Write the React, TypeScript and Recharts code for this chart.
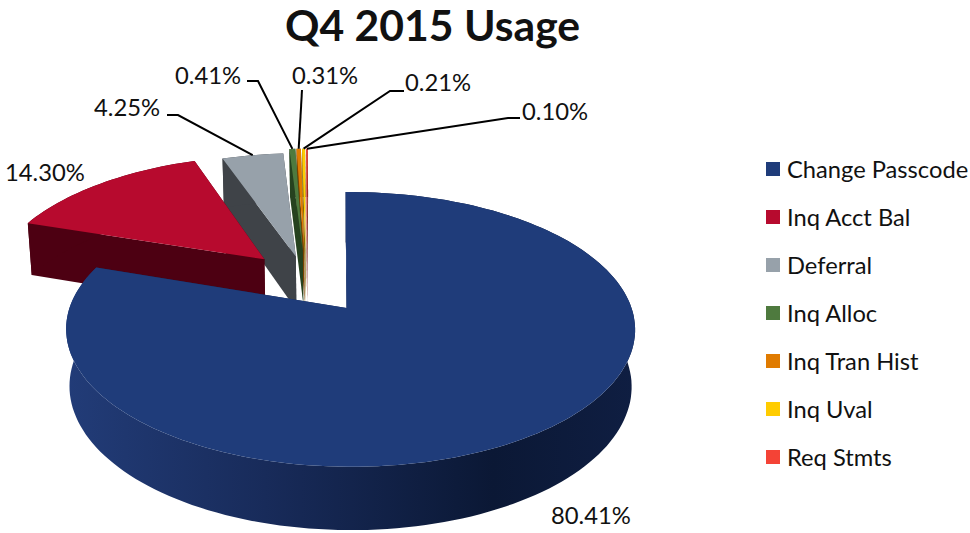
import { PieChart, Pie, Legend } from 'recharts';

// legend order, biggest first
const names = ['Change Passcode', 'Inq Acct Bal', 'Deferral', 'Inq Alloc', 'Inq Tran Hist', 'Inq Uval', 'Req Stmts'];
const shares = [80.41, 14.3, 4.25, 0.41, 0.31, 0.21, 0.1];
const topColors = ['#1f3c7a', '#b70a2e', '#97a1aa', '#4e7a3e', '#e07b00', '#ffcc00', '#f44336'];
const sideColors = ['#14264f', '#4d0012', '#3f4348', '#26421f', '#7a4300', '#8a6d00', '#7a211b'];

const WIDTH = 970;
const HEIGHT = 533;
const FONT = 'Lato, sans-serif';

// Recharts has no 3D pie, so each sector is projected by hand
const ORIGIN_X = 346;
const ORIGIN_Y = 308;
const RADIUS_X = 281;
const RADIUS_Y = 134;
const PERSPECTIVE = 0.156;
const DEPTH = 56;
const ROTATION = (-1 * Math.PI) / 180;
const APEX_NUDGE = -4;

// how far each slice is pulled out of the pie, in pie radii
const pullOut = [
  [0.016, 0],
  [-0.308, -0.385],
  [-0.19, -0.41],
  [-0.165, -0.46],
  [-0.16, -0.46],
  [-0.155, -0.46],
  [-0.15, -0.46],
];

// painted back to front, so the big slice comes last
const rows = names
  .map((name, i) => ({ name, value: shares[i], fill: topColors[i], side: sideColors[i], order: i }))
  .reverse();

// where the text sits (baseline) and where the leader elbow starts
const labelSpots: Record<string, { x: number; y: number; elbow?: number[] }> = {
  'Change Passcode': { x: 551, y: 524 },
  'Inq Acct Bal': { x: 5, y: 181 },
  Deferral: { x: 94, y: 116, elbow: [167, 115, 178, 115] },
  'Inq Alloc': { x: 175, y: 84, elbow: [247, 81, 258, 81] },
  'Inq Tran Hist': { x: 292, y: 84, elbow: [302, 90] },
  'Inq Uval': { x: 405, y: 91, elbow: [404, 91, 390, 91] },
  'Req Stmts': { x: 522, y: 120, elbow: [520, 118, 508, 118] },
};

const toClock = (angle: number) => ((90 - angle) * Math.PI) / 180 + ROTATION;

function project(clock: number, radius: number, order: number, drop = 0) {
  const wx = pullOut[order][0] + radius * Math.sin(clock);
  const wy = pullOut[order][1] - radius * Math.cos(clock);
  const p = 1 / (1 - PERSPECTIVE * wy);
  const shrink = 1 - 0.012 * drop;
  return {
    x: ORIGIN_X + RADIUS_X * wx * p * shrink,
    y: ORIGIN_Y + RADIUS_Y * wy * p + drop * DEPTH * Math.pow(p, 0.725),
  };
}

function toPath(points: { x: number; y: number }[]) {
  return points.map((pt, i) => `${i ? 'L' : 'M'}${pt.x.toFixed(1)},${pt.y.toFixed(1)}`).join(' ') + ' Z';
}

function Slice3D(props: any) {
  const { startAngle, endAngle, fill, order, side } = props;
  const from = toClock(startAngle);
  const to = toClock(endAngle);
  const steps = Math.max(2, Math.ceil(Math.abs(to - from) / 0.03));
  const arc: number[] = [];
  for (let i = 0; i <= steps; i++) arc.push(from + ((to - from) * i) / steps);

  const apex = project(0, 0, order);
  const isBig = order === 0;
  if (isBig) apex.x += APEX_NUDGE;
  const top = [apex, ...arc.map((a) => project(a, 1, order))];
  const outerWall = [...arc.map((a) => project(a, 1, order)), ...arc.slice().reverse().map((a) => project(a, 1, order, 1))];
  const wallA = [apex, project(from, 1, order), project(from, 1, order, 1), project(0, 0, order, 1)];
  const wallB = [apex, project(to, 1, order), project(to, 1, order, 1), project(0, 0, order, 1)];

  return (
    <g>
      {isBig && (
        <defs>
          <linearGradient id="bigSide" x1="0" y1="0" x2="1" y2="0">
            <stop offset="0%" stopColor="#223c78" />
            <stop offset="35%" stopColor="#182b5a" />
            <stop offset="75%" stopColor="#0b1835" />
            <stop offset="100%" stopColor="#0f1e42" />
          </linearGradient>
        </defs>
      )}
      <path d={toPath(wallA)} fill={side} />
      <path d={toPath(wallB)} fill={side} />
      <path d={toPath(outerWall)} fill={isBig ? 'url(#bigSide)' : side} />
      <path d={toPath(top)} fill={fill} />
    </g>
  );
}

function SliceLabel(props: any) {
  const { name, value, startAngle, endAngle, order } = props;
  const spot = labelSpots[name];
  if (!spot) return null;
  const mid = (toClock(startAngle) + toClock(endAngle)) / 2;
  const tip = project(mid, 1, order ?? names.indexOf(name));
  let line = '';
  if (spot.elbow) {
    const e = spot.elbow;
    line = `M${e[0]},${e[1]} ` + (e.length > 2 ? `L${e[2]},${e[3]} ` : '') + `L${tip.x.toFixed(1)},${tip.y.toFixed(1)}`;
  }
  return (
    <g>
      {line && <path d={line} fill="none" stroke="#000" strokeWidth={2} />}
      <text x={spot.x} y={spot.y} fontFamily={FONT} fontSize={23.8} fill="#111">
        {Number(value).toFixed(2)}%
      </text>
    </g>
  );
}

function LegendList() {
  return (
    <div>
      {names.map((name, i) => (
        <div key={name} style={{ display: 'flex', alignItems: 'center', height: 48, fontFamily: FONT, fontSize: 23.7, color: '#111', whiteSpace: 'pre' }}>
          <span style={{ width: 14, height: 14, background: topColors[i], marginRight: 7 }} />
          {name}
        </div>
      ))}
    </div>
  );
}

export default function App() {
  return (
    <div style={{ position: 'absolute', left: 0, top: 0, width: WIDTH, height: HEIGHT, background: '#fff' }}>
      <div style={{ position: 'absolute', left: 0, top: -2, width: 865, textAlign: 'center', fontFamily: FONT, fontWeight: 700, fontSize: 42.7, lineHeight: '54px', color: '#111' }}>
        Q4 2015 Usage
      </div>
      <PieChart width={WIDTH} height={HEIGHT} margin={{ top: 0, right: 0, bottom: 0, left: 0 }}>
        <Pie
          data={rows}
          dataKey="value"
          nameKey="name"
          cx={ORIGIN_X}
          cy={ORIGIN_Y}
          outerRadius={RADIUS_Y}
          startAngle={90}
          endAngle={450}
          stroke="none"
          isAnimationActive={false}
          shape={Slice3D}
          label={SliceLabel}
          labelLine={false}
        />
        <Legend
          layout="vertical"
          align="right"
          verticalAlign="top"
          content={LegendList}
          wrapperStyle={{ left: 766, top: 145, width: 204 }}
        />
      </PieChart>
    </div>
  );
}
